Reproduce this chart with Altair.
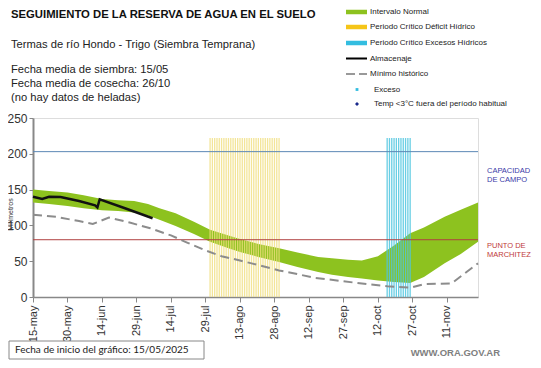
import altair as alt
import pandas as pd

# ---- data (days since 15-may) ----
band_days  = [0, 7, 15, 22, 30, 37, 44, 50, 55, 62, 70, 77, 85, 90, 98, 107, 115, 124, 130, 137, 143, 150, 157, 164, 170, 179, 186, 193.5]
band_upper = [150, 148, 146, 142, 137, 135, 134, 130, 124, 117, 105, 94, 86, 81, 74, 68, 62, 56, 54, 52, 51, 57, 72, 89, 97, 112, 122, 132]
band_lower = [132, 130, 127, 124, 121, 120, 118, 114, 108, 99, 88, 77, 68, 63, 56, 49, 42, 35, 31, 28, 26, 23, 21, 19.6, 28, 47, 60, 77]

min_days = [0, 10, 20, 26, 33, 42, 51, 60, 67, 75, 82, 90, 100, 107, 115, 122, 135, 145, 154, 164, 170, 182, 193.5]
min_vals = [115, 112, 106, 102, 111, 104, 96, 86, 76, 65, 57, 51, 43, 37, 32, 27, 22, 18, 15, 13, 18, 19, 47]

alm_days = [0, 4, 7, 12, 20, 27, 28, 29, 40, 52]
alm_vals = [140, 137, 140, 139.5, 134, 128, 125, 136.5, 124, 110]

deficit_start, deficit_end = 77, 107
exceso_start, exceso_end = 154, 164
stripe_top = 222

capacidad = 203
marchitez = 80

tick_days = [0, 15, 30, 45, 60, 75, 90, 105, 120, 135, 150, 165, 180]
tick_labels = ["15-may", "30-may", "14-jun", "29-jun", "14-jul", "29-jul", "13-ago",
               "28-ago", "12-sep", "27-sep", "12-oct", "27-oct", "11-nov"]
y_ticks = [0, 50, 100, 150, 200, 250]

FONT = "Liberation Sans"
GREEN = "#8dc21f"
YELLOW = "#f0de7e"
CYAN = "#4fc6df"

xs = alt.Scale(domain=[0, 193.5], nice=False, zero=False)
ys = alt.Scale(domain=[0, 250], nice=False)

label_expr = "[" + ",".join("'%s'" % t for t in tick_labels) + "][round(datum.value/15)]"

X_AXIS = alt.Axis(
    values=tick_days, labelExpr=label_expr, labelAngle=-90, labelFontSize=11,
    labelFont=FONT, labelColor="#333333", grid=False, domainColor="#888888",
    domainWidth=1.5, tickColor="#888888", tickSize=5, labelPadding=3, title=None,
    labelOverlap=False, labelAlign="right", labelBaseline="middle")
Y_AXIS = alt.Axis(
    values=y_ticks, labelFontSize=12, labelFont=FONT, labelColor="#333333", grid=False,
    domainColor="#888888", domainWidth=2, tickColor="#888888", tickSize=4,
    labelPadding=2, title="Milímetros", titleFontSize=7, titleFont=FONT,
    titleFontWeight="normal", titleColor="#333333", titleX=-20, titleY=96,
    titleAngle=-90, labelOverlap=False)


def X(field):
    return alt.X(field, scale=xs, axis=X_AXIS)


def Y(field):
    return alt.Y(field, scale=ys, axis=Y_AXIS)


band_df = pd.DataFrame({"day": band_days, "up": band_upper, "lo": band_lower})
band = alt.Chart(band_df).mark_area(color=GREEN, opacity=1).encode(
    x=X("day:Q"), y=Y("up:Q"), y2="lo:Q")

def_df = pd.DataFrame({"day": list(range(deficit_start, deficit_end + 1))})
def_df["top"] = stripe_top
def_df["bot"] = 0
exc_df = pd.DataFrame({"day": list(range(exceso_start, exceso_end + 1))})
exc_df["top"] = stripe_top
exc_df["bot"] = 0
stripes_d = alt.Chart(def_df).mark_rule(strokeWidth=1.3, opacity=0.8, color=YELLOW).encode(
    x=X("day:Q"), y=Y("top:Q"), y2="bot:Q")
stripes_e = alt.Chart(exc_df).mark_rule(strokeWidth=1.3, opacity=0.85, color=CYAN).encode(
    x=X("day:Q"), y=Y("top:Q"), y2="bot:Q")

cap_line = alt.Chart(pd.DataFrame({"v": [capacidad]})).mark_rule(strokeWidth=1, color="#5b87b5").encode(y=Y("v:Q"))
mar_line = alt.Chart(pd.DataFrame({"v": [marchitez]})).mark_rule(strokeWidth=1, color="#b04040").encode(y=Y("v:Q"))

min_df = pd.DataFrame({"day": min_days, "v": min_vals})
minline = alt.Chart(min_df).mark_line(color="#8c8c8c", strokeWidth=2, strokeDash=[9, 5]).encode(
    x=X("day:Q"), y=Y("v:Q"))

alm_df = pd.DataFrame({"day": alm_days, "v": alm_vals})
almline = alt.Chart(alm_df).mark_line(color="#111111", strokeWidth=2.5).encode(
    x=X("day:Q"), y=Y("v:Q"))


def txt(s, x, y, size=11, color="#111111", weight="normal", font=FONT, align="left"):
    return alt.Chart(pd.DataFrame({"t": [s]})).mark_text(
        align=align, baseline="middle", fontSize=size, color=color, fontWeight=weight, font=font
    ).encode(x=alt.value(x), y=alt.value(y), text="t:N")


def hbar(x1, x2, y, color, width, dash=None):
    kw = dict(color=color, strokeWidth=width)
    if dash:
        kw["strokeDash"] = dash
    return alt.Chart(pd.DataFrame({"a": [0]})).mark_rule(**kw).encode(
        x=alt.value(x1), x2=alt.value(x2), y=alt.value(y))


layers = [band, stripes_d, stripes_e, cap_line, mar_line, minline, almline]

# header texts
layers += [
    txt("SEGUIMIENTO DE LA RESERVA DE AGUA  EN EL SUELO", -22, -103, size=11.3, weight="bold"),
    txt("Termas de río Hondo - Trigo (Siembra Temprana)", -22, -73, size=11.2, color="#222222"),
    txt("Fecha media de siembra: 15/05", -22, -48, size=11.2, color="#222222"),
    txt("Fecha media de cosecha: 26/10", -22, -34, size=11.2, color="#222222"),
    txt("(no hay  datos de heladas)", -22, -20, size=11.2, color="#222222"),
]

# legend
LX1, LX2, LT = 313, 334, 337
leg_y = [-106, -91, -75, -59.5, -44, -28.5, -14]
layers += [
    hbar(LX1, LX2, leg_y[0], GREEN, 4.5),
    hbar(LX1, LX2, leg_y[1], "#f5c518", 4.5),
    hbar(LX1, LX2, leg_y[2], "#33bde0", 4.5),
    hbar(LX1, LX2, leg_y[3], "#000000", 2),
    hbar(LX1, LX2, leg_y[4], "#999999", 2, dash=[9, 4]),
    alt.Chart(pd.DataFrame({"a": [0]})).mark_point(shape="square", filled=True, size=8, color="#33bde0", opacity=1).encode(
        x=alt.value(324), y=alt.value(leg_y[5])),
    alt.Chart(pd.DataFrame({"a": [0]})).mark_point(shape="diamond", filled=True, size=16, color="#1a2a8c", opacity=1).encode(
        x=alt.value(324), y=alt.value(leg_y[6])),
    txt("Intervalo Normal", LT, leg_y[0], size=8, color="#222222"),
    txt("Periodo Crítico Déficit Hídrico", LT, leg_y[1], size=8, color="#222222"),
    txt("Periodo Crítico Excesos Hídricos", LT, leg_y[2], size=8, color="#222222"),
    txt("Almacenaje", LT, leg_y[3], size=8, color="#222222"),
    txt("Mínimo histórico", LT, leg_y[4], size=8, color="#222222"),
    txt("Exceso", LT + 4, leg_y[5], size=8, color="#222222"),
    txt("Temp <3°C fuera del período habitual", LT + 4, leg_y[6], size=8, color="#222222"),
]

# right-side labels
layers += [
    txt("CAPACIDAD", 454, 53, size=7.5, color="#3a3aa8"),
    txt("DE  CAMPO", 454, 62, size=7.5, color="#3a3aa8"),
    txt("PUNTO  DE", 454, 128, size=7.5, color="#c03a3a"),
    txt("MARCHITEZ", 454, 137, size=7.5, color="#c03a3a"),
]

# footer
layers += [
    alt.Chart(pd.DataFrame({"a": [0]})).mark_rect(fill="white", stroke="#888888", strokeWidth=1).encode(
        x=alt.value(-24), x2=alt.value(171), y=alt.value(223), y2=alt.value(241)),
    txt("Fecha de inicio del gráfico:  15/05/2025", -18, 232, size=10, color="#222222", font="Lato"),
    txt("WWW.ORA.GOV.AR", 467, 235, size=9.5, color="#808080", weight="bold", align="right"),
]

chart = alt.layer(*layers).properties(
    width=445, height=179,
    autosize=alt.AutoSizeParams(type="none"),
    padding={"left": 25, "top": 110, "right": 55, "bottom": 63},
).configure_view(stroke=None).configure(background="white")

chart.save("out.html", embed_options={"renderer": "svg", "actions": False})
